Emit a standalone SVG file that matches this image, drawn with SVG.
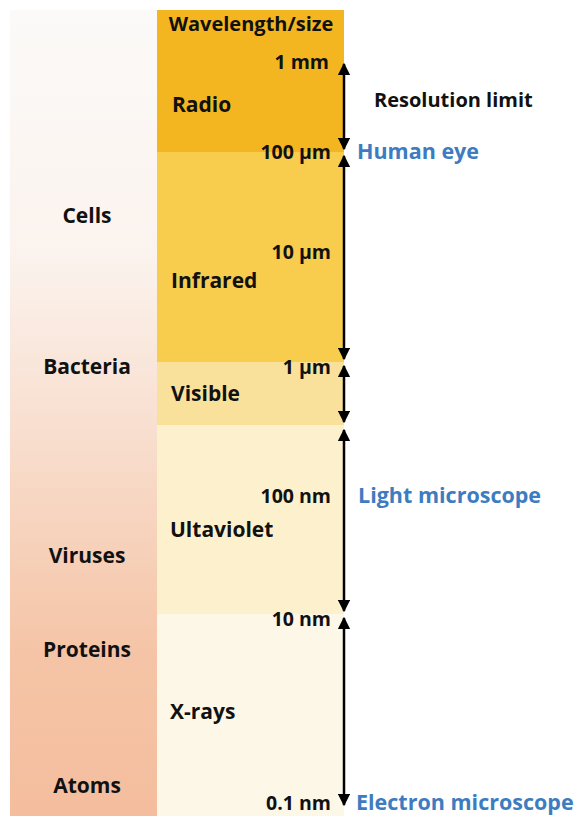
<svg xmlns="http://www.w3.org/2000/svg" width="580" height="816" viewBox="0 0 580 816">
<defs>
<linearGradient id="lg" x1="0" y1="0" x2="0" y2="1">
<stop offset="0" stop-color="#fbfaf8"/>
<stop offset="0.3" stop-color="#fbf3ee"/>
<stop offset="0.55" stop-color="#f8dccb"/>
<stop offset="0.8" stop-color="#f5c4a6"/>
<stop offset="1" stop-color="#f4be9e"/>
</linearGradient>
<marker id="ah" viewBox="0 0 10 10" refX="9" refY="5" markerWidth="5" markerHeight="5" orient="auto-start-reverse" markerUnits="strokeWidth">
<path d="M0,0 L10,5 L0,10 z" fill="#000"/>
</marker>
<style>
text{font-family:"Open Sans","Liberation Sans",sans-serif;font-weight:bold;font-size:20px;fill:#111}
.lbl{font-size:21px}
.n{font-size:19.5px;text-anchor:end}
.c{text-anchor:middle}
.b{fill:#3d7cc0;font-size:21.5px}
.arr{stroke:#000;stroke-width:2.5;fill:none;marker-start:url(#ah);marker-end:url(#ah)}
</style>
</defs>
<rect width="580" height="816" fill="#fff"/>
<g id="objects">
<rect x="10" y="10" width="147" height="806" fill="url(#lg)"/>
<text class="c lbl" x="87" y="223">Cells</text>
<text class="c lbl" x="87" y="374">Bacteria</text>
<text class="c lbl" x="87" y="563">Viruses</text>
<text class="c lbl" x="87" y="657">Proteins</text>
<text class="c lbl" x="87" y="793">Atoms</text>
</g>
<g id="radio"><rect x="157" y="10" width="187" height="142" fill="#f4b620"/>
<text class="c" x="251" y="31">Wavelength/size</text>
<text class="lbl" x="172" y="112">Radio</text></g>
<g id="infrared"><rect x="157" y="152" width="187" height="210" fill="#f8cc4c"/>
<text class="lbl" x="171" y="288">Infrared</text></g>
<g id="visible"><rect x="157" y="362" width="187" height="63" fill="#f9e19c"/>
<text class="lbl" x="171" y="401">Visible</text></g>
<g id="ultraviolet"><rect x="157" y="425" width="187" height="189" fill="#fdf1cd"/>
<text class="lbl" x="170" y="537">Ultaviolet</text></g>
<g id="xrays"><rect x="157" y="614" width="187" height="202" fill="#fdf7e8"/>
<text class="lbl" x="170" y="719">X-rays</text></g>
<g id="scale">
<text class="n" x="329" y="69">1 mm</text>
<text class="n" x="331" y="159">100 µm</text>
<text class="n" x="331" y="259">10 µm</text>
<text class="n" x="331" y="374">1 µm</text>
<text class="n" x="331" y="503">100 nm</text>
<text class="n" x="331" y="626">10 nm</text>
<text class="n" x="331" y="810">0.1 nm</text>
</g>
<g id="limits">
<text x="374" y="107">Resolution limit</text>
<text class="b" x="357" y="159">Human eye</text>
<text class="b" x="358" y="503">Light microscope</text>
<text class="b" x="356" y="810">Electron microscope</text>
</g>
<g id="connectors">
<line class="arr" x1="344" y1="64" x2="344" y2="149"/>
<line class="arr" x1="344" y1="156" x2="344" y2="359"/>
<line class="arr" x1="344" y1="366" x2="344" y2="422"/>
<line class="arr" x1="344" y1="430" x2="344" y2="611"/>
<line class="arr" x1="344" y1="618" x2="344" y2="805"/>
</g>
</svg>
